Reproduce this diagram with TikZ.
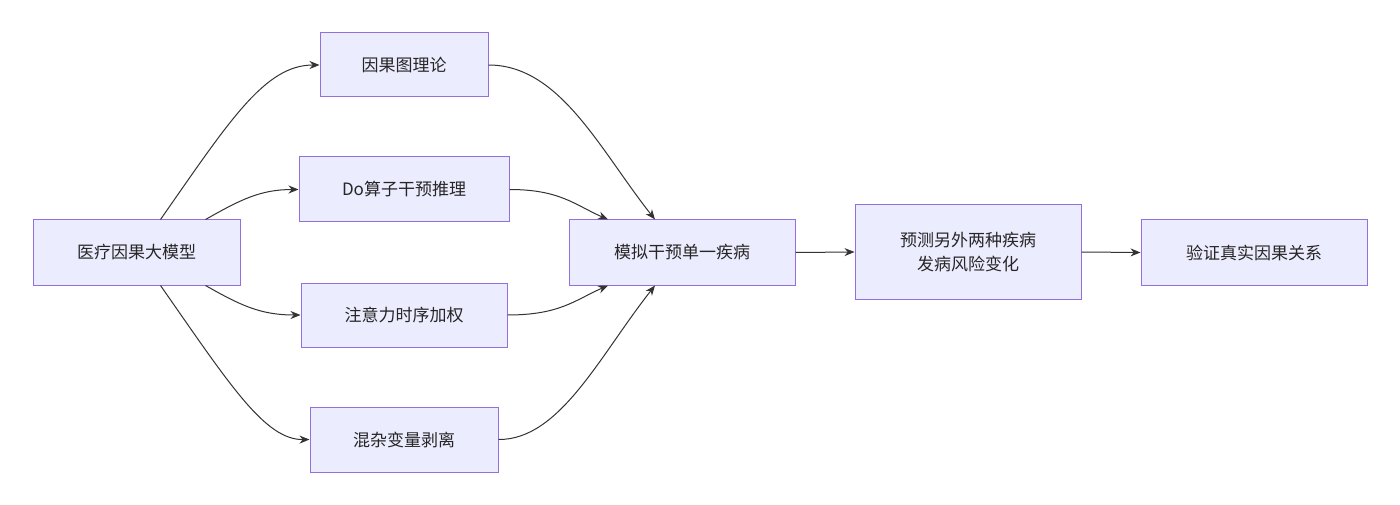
\documentclass[tikz,border=0pt]{standalone}
\usepackage{fontspec}
\newfontfamily\cjk{Noto Sans CJK SC}
\usetikzlibrary{arrows.meta,calc}
\definecolor{nfill}{HTML}{ECECFF}
\definecolor{nline}{HTML}{9370DB}
\definecolor{eline}{HTML}{333333}
\begin{document}
\begin{tikzpicture}[x=1pt,y=-1pt,
  box/.style={draw=nline,fill=nfill,line width=1pt,inner sep=0pt,font=\cjk\fontsize{17}{24}\selectfont,text=black!85,align=center},
  e/.style={draw=eline,line width=1pt,-{Stealth[length=10pt,width=8pt]}}]
\useasboundingbox (0,0) rectangle (1400,505);
\node[box,minimum width=207,minimum height=65] (A) at (136.5,252.5) {医疗因果大模型};
\node[box,minimum width=168,minimum height=64] (B) at (404,65) {因果图理论};
\node[box,minimum width=210,minimum height=65] (C) at (404,189.5) {Do算子干预推理};
\node[box,minimum width=206,minimum height=64] (D) at (404,315) {注意力时序加权};
\node[box,minimum width=188,minimum height=65] (E) at (404,439.5) {混杂变量剥离};
\node[box,minimum width=226,minimum height=65] (F) at (682,252.5) {模拟干预单一疾病};
\node[box,minimum width=226,minimum height=94] (G) at (968,252) {预测另外两种疾病\\发病风险变化};
\node[box,minimum width=226,minimum height=65] (H) at (1254,252.5) {验证真实因果关系};
\coordinate (a1) at ($(A.north)+(24,0)$);
\coordinate (a2) at ($(A.north)+(69,0)$);
\coordinate (a3) at ($(A.south)+(69,0)$);
\coordinate (a4) at ($(A.south)+(24,0)$);
\coordinate (f1) at ($(F.north)+(-27,0)$);
\coordinate (f2) at ($(F.north)+(-74,0)$);
\coordinate (f3) at ($(F.south)+(-74,0)$);
\coordinate (f4) at ($(F.south)+(-27,0)$);
\draw[e] (a1) .. controls (230,120) and (265,65) .. (B.west);
\draw[e] (a2) .. controls (240,200) and (260,189.5) .. (C.west);
\draw[e] (a3) .. controls (240,305) and (260,315) .. (D.west);
\draw[e] (a4) .. controls (230,385) and (265,440) .. (E.west);
\draw[e] (B.east) .. controls (560,65) and (600,150) .. (f1);
\draw[e] (C.east) .. controls (560,189.5) and (575,205) .. (f2);
\draw[e] (D.east) .. controls (560,315) and (575,300) .. (f3);
\draw[e] (E.east) .. controls (560,440) and (600,355) .. (f4);
\draw[e] (F.east) -- (G.west);
\draw[e] (G.east) -- (H.west);
\end{tikzpicture}
\end{document}
